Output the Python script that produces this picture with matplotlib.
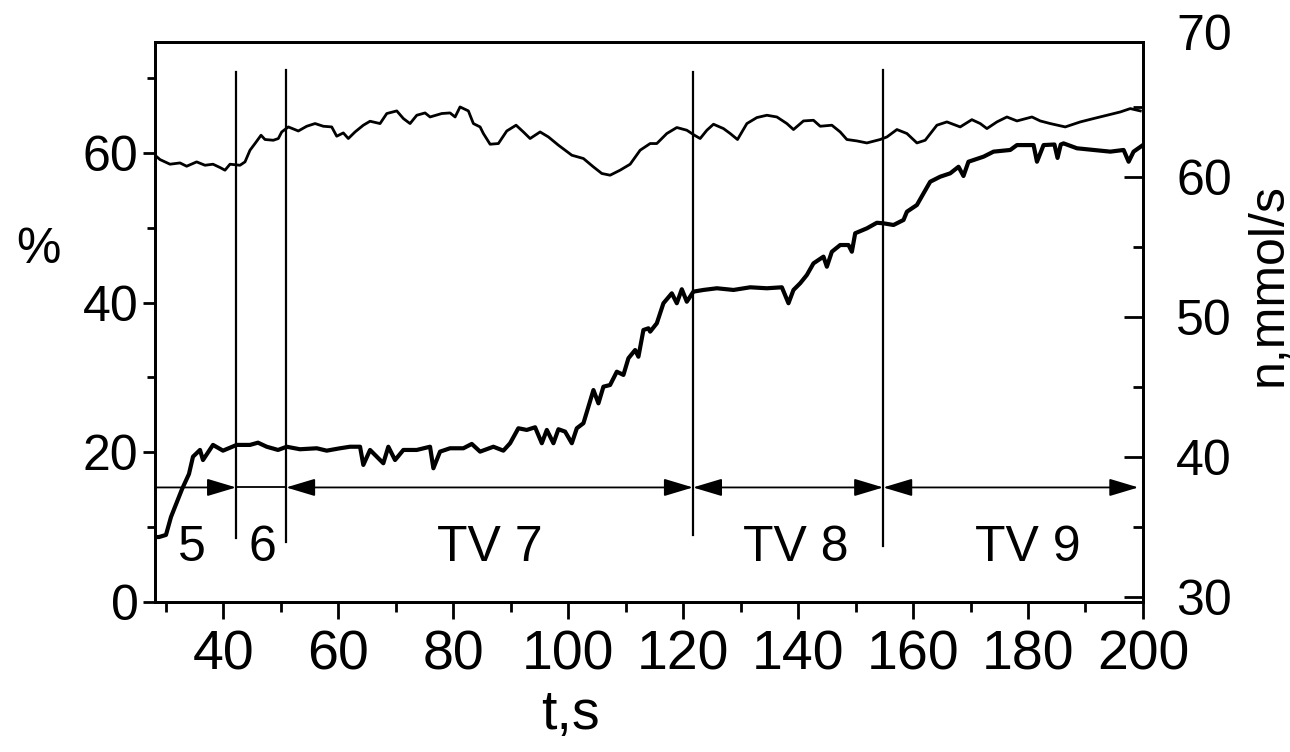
#!/usr/bin/env python3

import numpy as np
import matplotlib
matplotlib.use('Agg')
from matplotlib import pyplot as plt
from matplotlib import font_manager
from matplotlib.ticker import MultipleLocator

# upper trace, %, left axis
t_pct = [28.09, 28.96, 30.7, 32.44, 33.6, 35.34, 36.79, 38.18, 39.4, 40.27, 41.14, 42.88, 43.75,
         44.62, 45.49, 46.54, 47.23, 48.68, 49.55, 50.14, 51.29, 53.03, 54.49, 55.94, 57.38, 58.84,
         59.71, 60.86, 61.73, 62.9, 64.34, 65.51, 67.25, 68.42, 70.16, 71.31, 72.47, 73.64, 75.08,
         75.95, 77.99, 79.43, 80.31, 81.17, 82.62, 83.49, 84.66, 85.23, 86.4, 87.84, 89.3, 90.92,
         92.19, 93.36, 95.1, 96.55, 98.29, 100.62, 102.64, 104.38, 105.84, 107.28, 109.02, 110.77,
         112.51, 114.25, 115.41, 117.15, 118.89, 120.63, 121.96, 122.95, 124.12, 125.27, 127.01,
         128.18, 129.45, 131.08, 132.82, 134.56, 136.3, 138.04, 139.19, 140.93, 142.67, 143.84,
         145.87, 147.32, 148.48, 150.22, 151.96, 154.28, 155.45, 157.19, 158.93, 160.67, 162.11,
         164.15, 165.89, 168.2, 170.23, 171.69, 172.85, 174.59, 176.33, 178.08, 180.69, 182.13,
         183.87, 186.48, 189.1, 191.41, 193.74, 196.06, 197.8, 199.54]
pct = [59.68, 59.1, 58.48, 58.65, 58.21, 58.79, 58.34, 58.48, 58.04, 57.68, 58.48, 58.34, 58.79,
       60.35, 61.24, 62.35, 61.78, 61.68, 61.91, 62.79, 63.46, 62.92, 63.55, 63.91, 63.55, 63.46,
       62.22, 62.66, 61.91, 62.79, 63.69, 64.22, 63.91, 65.25, 65.6, 64.58, 63.91, 65.02, 65.33,
       64.79, 65.25, 65.33, 64.79, 66.13, 65.6, 63.91, 63.46, 62.58, 61.15, 61.24, 62.92, 63.69,
       62.79, 61.91, 62.79, 62.12, 61.02, 59.68, 59.24, 58.12, 57.24, 57.01, 57.68, 58.48,
       60.35, 61.24, 61.24, 62.58, 63.38, 63.02, 62.35, 61.91, 63.02, 63.82, 63.24,
       62.58, 61.78, 63.91, 64.71, 65.02, 64.79, 63.91, 63.11, 64.26, 64.35, 63.55,
       63.69, 62.79, 61.78, 61.59, 61.32, 61.78, 62.12, 63.11, 62.58, 61.32, 61.68,
       63.69, 64.13, 63.46, 64.43, 63.91, 63.24, 64.13, 64.79, 64.26, 64.79, 64.26,
       63.91, 63.46, 64.13, 64.58, 65.02, 65.46, 65.91, 65.6]

# lower trace, n in mmol/s, right axis
t_n = [28.1, 28.8, 30.0, 30.87, 32.8, 34.0, 34.7, 35.92, 36.44, 38.18, 39.92, 42.3, 44.62, 46.01,
       47.53, 49.5, 51.0, 53.32, 56.23, 57.97, 60.29, 62.03, 63.77, 64.34, 65.51, 67.82, 68.69,
       69.86, 71.31, 73.64, 75.95, 76.53, 77.69, 79.43, 81.75, 83.21, 84.66, 86.97, 88.71, 89.88,
       91.32, 92.78, 94.23, 95.4, 96.27, 97.42, 98.29, 99.45, 100.62, 101.49, 102.64, 103.51,
       104.38, 105.25, 106.12, 107.28, 108.45, 109.6, 110.47, 111.64, 112.21, 113.08, 113.95,
       114.25, 115.41, 116.56, 118.02, 118.89, 119.76, 120.63, 121.78, 123.52, 125.86, 128.75,
       131.66, 134.56, 137.17, 138.32, 139.19, 140.36, 141.52, 142.67, 144.41, 145.0, 145.87,
       147.32, 148.76, 149.35, 149.93, 151.96, 153.7, 154.86, 156.6, 158.34, 158.93, 160.67,
       161.82, 162.98, 164.72, 166.46, 167.91, 168.77, 169.64, 172.26, 174.0, 176.91, 178.08,
       180.97, 181.56, 182.71, 184.6, 185.14, 185.7, 186.19, 188.52, 191.41, 194.32, 196.64,
       197.51, 198.37, 200.0]
n_flow = [34.26, 34.26, 34.41, 35.69, 37.69, 38.76, 40.0, 40.48, 39.76, 40.84, 40.43, 40.84, 40.84, 41.0,
          40.71, 40.48, 40.71, 40.53, 40.6, 40.43, 40.6, 40.71, 40.71, 39.41, 40.48, 39.53, 40.71,
          39.76, 40.48, 40.48, 40.71, 39.17, 40.36, 40.6, 40.6, 40.91, 40.36, 40.71, 40.43, 40.96,
          42.03, 41.91, 42.1, 40.96, 41.91, 40.96, 41.96, 41.79, 40.96, 42.03, 42.39, 43.57,
          44.76, 43.81, 45.0, 45.12, 46.07, 45.84, 47.03, 47.62, 47.14, 49.05, 49.17,
          48.93, 49.53, 50.96, 51.67, 50.96, 51.96, 51.07, 51.79, 51.91, 52.03, 51.91,
          52.1, 52.03, 52.1, 50.96, 51.91, 52.39, 52.98, 53.81, 54.29, 53.57, 54.64,
          55.12, 55.12, 54.64, 55.96, 56.31, 56.71, 56.67, 56.55, 56.91, 57.5, 57.98,
          58.81, 59.64, 60.0, 60.24, 60.71, 60.05, 61.07, 61.43, 61.79, 61.91, 62.26,
          62.26, 61.07, 62.26, 62.3, 61.34, 62.3, 62.38, 62.03, 61.91, 61.79, 61.91,
          61.07, 61.79, 62.26]

# regime boundaries (s) and markers
bounds = [42.2, 50.9, 121.7, 154.8]
bound_top = [70.8, 71.0, 70.8, 71.0]
bound_bot = [8.5, 8.0, 8.9, 7.5]
regime_labels = ['5', '6', 'TV 7', 'TV 8', 'TV 9']
label_x = [34.5, 46.7, 86.4, 139.5, 179.9]

fnames = {f.name for f in font_manager.fontManager.ttflist}
regular = 'Liberation Sans'
narrow = 'Liberation Sans Narrow' if 'Liberation Sans Narrow' in fnames else 'Liberation Sans'
plt.rcParams['font.family'] = [regular, 'DejaVu Sans']

fig = plt.figure(figsize=(12.9, 7.52), dpi=100)
ax = fig.add_axes([0.1202, 0.1995, 0.886 - 0.1202, 0.9441 - 0.1995])
ax2 = ax.twinx()

ax.plot(t_pct, pct, color='black', lw=2.0)
ax2.plot(t_n, n_flow, color='black', lw=3.0)

ax.set_xlim(28.1, 200)
ax.set_ylim(0, 74.8)
ax2.set_ylim(29.62, 69.62)

for xb, yt, yb in zip(bounds, bound_top, bound_bot):
    ax.plot([xb, xb], [yb, yt], color='black', lw=1.6)

arrow_y = 15.3
def arrow(x0, x1, style):
    ax.annotate('', xy=(x1, arrow_y), xytext=(x0, arrow_y),
                arrowprops=dict(arrowstyle=style + ',head_length=1.0,head_width=0.3',
                                color='black', lw=1.3, shrinkA=0, shrinkB=0, mutation_scale=18))

arrow(28.1, bounds[0], '-|>')
ax.plot([bounds[0], bounds[1]], [arrow_y, arrow_y], color='black', lw=1.3)
arrow(bounds[1], bounds[2], '<|-|>')
arrow(bounds[2], bounds[3], '<|-|>')
arrow(bounds[3], 199.2, '<|-|>')

for lab, xl in zip(regime_labels, label_x):
    ax.text(xl, 7.2, lab, ha='center', va='center', fontsize=36, family=narrow)

for s in ['left', 'right', 'top', 'bottom']:
    ax.spines[s].set_linewidth(2.0)
    ax2.spines[s].set_linewidth(2.0)

ax.xaxis.set_major_locator(MultipleLocator(20))
ax.xaxis.set_minor_locator(MultipleLocator(10))
ax.yaxis.set_major_locator(MultipleLocator(20))
ax.yaxis.set_minor_locator(MultipleLocator(10))
ax2.yaxis.set_major_locator(MultipleLocator(10))
ax2.yaxis.set_minor_locator(MultipleLocator(5))

ax.tick_params(axis='x', which='major', direction='out', length=12, width=2, labelsize=40, pad=8)
ax.tick_params(axis='x', which='minor', direction='out', length=7, width=2)
ax.tick_params(axis='y', which='major', direction='out', length=9, width=2, labelsize=36, pad=3)
ax.tick_params(axis='y', which='minor', direction='out', length=6, width=2)
ax2.tick_params(axis='y', which='major', direction='in', length=14, width=2, labelsize=36, pad=24)
ax2.tick_params(axis='y', which='minor', direction='in', length=7, width=2)

for lab in ax.get_xticklabels():
    lab.set_family(narrow)
ax.set_xticks([40, 60, 80, 100, 120, 140, 160, 180, 200])

# the 70 label sits just above the top of the right axis
ax2.annotate('70', xy=(1.0, 70), xycoords=('axes fraction', 'data'), xytext=(24, 0),
             textcoords='offset points', ha='left', va='center', fontsize=36, annotation_clip=False)

fig.text(570 / 1290, 1 - 715 / 752, 't,s', ha='center', va='center', fontsize=40, family=narrow)
fig.text(38 / 1290, 1 - 250 / 752, '%', ha='center', va='center', fontsize=36)
fig.text(1268 / 1290, 1 - 285 / 752, 'n,mmol/s', ha='center', va='center', fontsize=36, rotation=90)

plt.savefig('out.png', dpi=100)
